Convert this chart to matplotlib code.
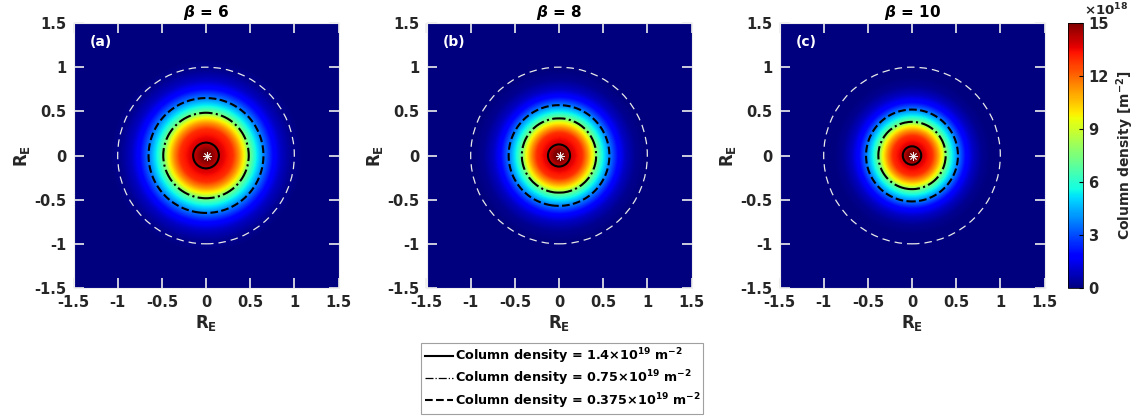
import numpy as np
import matplotlib
matplotlib.use('Agg')
import matplotlib.pyplot as plt
from matplotlib.patches import Circle
from matplotlib.lines import Line2D

# panel parameters
betas = [6, 8, 10]
panel_tags = ['(a)', '(b)', '(c)']

# radial column-density profiles (units of 1e18 m^-2)
r_b6 = [0.0, 0.145, 0.30, 0.37, 0.44, 0.483, 0.56, 0.65, 0.75, 0.85, 0.97, 1.1, 2.2]
n_b6 = [15.6, 14.0, 12.9, 11.3, 9.3, 7.5, 5.6, 3.75, 2.0, 0.9, 0.25, 0.0, 0.0]
r_b8 = [0.0, 0.124, 0.26, 0.32, 0.385, 0.42, 0.49, 0.57, 0.66, 0.75, 0.86, 0.98, 2.2]
n_b8 = [15.8, 14.0, 12.9, 11.3, 9.3, 7.5, 5.6, 3.75, 2.0, 0.9, 0.25, 0.0, 0.0]
r_b10 = [0.0, 0.103, 0.225, 0.285, 0.345, 0.38, 0.445, 0.52, 0.60, 0.69, 0.79, 0.90, 2.2]
n_b10 = [16.0, 14.0, 12.9, 11.3, 9.3, 7.5, 5.6, 3.75, 2.0, 0.9, 0.25, 0.0, 0.0]
profiles = [(r_b6, n_b6), (r_b8, n_b8), (r_b10, n_b10)]

contour_levels = [3.75, 7.5, 14.0]
contour_styles = ['--', '-.', '-']
legend_labels = [r'Column density = 1.4$\times\mathbf{10^{19}}$ m$^{\mathbf{-2}}$',
                 r'Column density = 0.75$\times\mathbf{10^{19}}$ m$^{\mathbf{-2}}$',
                 r'Column density = 0.375$\times\mathbf{10^{19}}$ m$^{\mathbf{-2}}$']
ticks = [-1.5, -1, -0.5, 0, 0.5, 1, 1.5]
tick_labels = ['-1.5', '-1', '-0.5', '0', '0.5', '1', '1.5']
cbar_ticks = [0, 3, 6, 9, 12, 15]

plt.rcParams['font.family'] = 'DejaVu Sans'
plt.rcParams['font.weight'] = 'bold'
txt = '#262626'

fig = plt.figure(figsize=(11.37, 4.16), dpi=100)

N = 401
g = np.linspace(-1.5, 1.5, N)
X, Y = np.meshgrid(g, g)
R = np.hypot(X, Y)

lefts = [73, 426, 779]
bottom = 1 - 288 / 416
height = 265 / 416
width = 266 / 1137

for k in range(3):
    ax = fig.add_axes([lefts[k] / 1137, bottom, width, height])
    rk, nk = profiles[k]
    Z = np.interp(R, rk, nk)
    im = ax.imshow(Z, extent=[-1.5, 1.5, -1.5, 1.5], origin='lower',
                   cmap='jet', vmin=0, vmax=15, interpolation='bilinear')
    ax.contour(X, Y, Z, levels=contour_levels, colors='k',
               linestyles=contour_styles, linewidths=1.5)
    ax.add_patch(Circle((0, 0), 1.0, fill=False, ec='#e8e8e8', lw=0.9,
                        ls=(0, (6, 4))))
    ax.plot([0.01], [-0.01], marker=(8, 2, 0), ms=6, color='#f0f0f0', mew=0.6)
    ax.set_xlim(-1.5, 1.5)
    ax.set_ylim(-1.5, 1.5)
    ax.set_xticks(ticks)
    ax.set_xticklabels(tick_labels)
    ax.set_yticks(ticks)
    ax.set_yticklabels(tick_labels)
    ax.tick_params(direction='in', length=7, width=1.2, color='#eeeeee',
                   top=True, right=True, labelsize=10.5, labelcolor=txt, pad=5)
    for s in ax.spines.values():
        s.set_color('#eeeeee')
    ax.set_xlabel(r'$\mathbf{R_E}$', fontsize=12, color=txt, labelpad=2)
    ax.set_ylabel(r'$\mathbf{R_E}$', fontsize=12, color=txt, labelpad=2)
    ax.set_title(r'$\beta$ = %d' % betas[k], fontsize=11, fontweight='bold',
                 color='k', pad=4)
    ax.text(-1.32, 1.28, panel_tags[k], color='white', fontsize=10,
            fontweight='bold', va='center', ha='left')

cax = fig.add_axes([1068 / 1137, bottom, 15 / 1137, height])
cb = fig.colorbar(im, cax=cax, ticks=cbar_ticks)
cb.ax.tick_params(labelsize=10.5, labelcolor=txt, direction='in', length=3)
cb.outline.set_linewidth(0.6)
cb.set_label(r'Column density [m$^{\mathbf{-2}}$]', fontsize=10,
             fontweight='bold', color=txt, labelpad=4)
fig.text(1084 / 1137, 0.996, r'$\times\mathbf{10^{18}}$', fontsize=9.5,
         color=txt, va='top', ha='left')

handles = [Line2D([], [], color='k', ls='-', lw=1.5),
           Line2D([], [], color='k', ls='-.', lw=0.9),
           Line2D([], [], color='k', ls='--', lw=1.5)]
leg = fig.legend(handles, legend_labels, loc='center',
                 bbox_to_anchor=(0.4947, 0.09), fontsize=9.2, frameon=True,
                 fancybox=False, edgecolor='#888888', handlelength=2.2,
                 handletextpad=0.15, labelspacing=0.2, borderpad=0.25,
                 borderaxespad=0)
leg.get_frame().set_linewidth(0.8)
for t in leg.get_texts():
    t.set_fontweight('bold')

fig.savefig('out.png', dpi=100)
